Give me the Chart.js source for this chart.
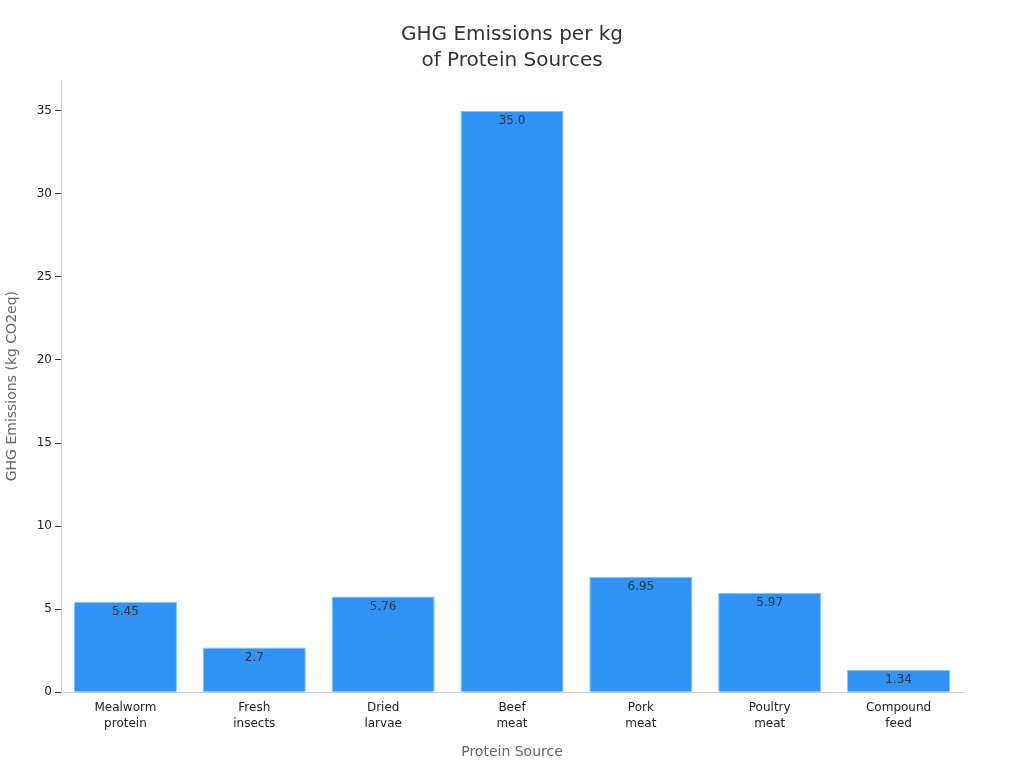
<!DOCTYPE html>
<html><head><meta charset="utf-8">
<script src="https://cdn.jsdelivr.net/npm/chart.js@4"></script>
<style>html,body{margin:0;padding:0;background:#fff}#wrap{width:1024px;height:768px}</style>
</head><body><div id="wrap"><canvas id="c" width="1024" height="768"></canvas></div>
<script>
const categories = [["Mealworm","protein"],["Fresh","insects"],["Dried","larvae"],["Beef","meat"],["Pork","meat"],["Poultry","meat"],["Compound","feed"]];
const emissions = [5.45, 2.7, 5.76, 35.0, 6.95, 5.97, 1.34];
const valueLabels = ["5.45","2.7","5.76","35.0","6.95","5.97","1.34"];
const yTicks = [0,5,10,15,20,25,30,35];
const titleLines = ["GHG Emissions per kg", "of Protein Sources"];

const FONT = "'DejaVu Sans', sans-serif";
const labelPlugin = {
  id: 'vlabels',
  afterDatasetsDraw(chart) {
    const ctx = chart.ctx;
    const meta = chart.getDatasetMeta(0);
    ctx.save();
    ctx.font = "12px " + FONT;
    ctx.fillStyle = "#333";
    ctx.textAlign = "center";
    ctx.textBaseline = "middle";
    meta.data.forEach((bar, i) => {
      ctx.fillText(valueLabels[i], bar.x, bar.y + 10);
    });
    ctx.restore();
  },
  afterDraw(chart) {
    const ctx = chart.ctx;
    ctx.save();
    ctx.font = "20px " + FONT;
    ctx.fillStyle = "#333";
    ctx.textAlign = "center";
    ctx.textBaseline = "middle";
    titleLines.forEach((t, i) => ctx.fillText(t, chart.width / 2, 35 + i * 26));
    ctx.restore();
  }
};

new Chart(document.getElementById('c'), {
  type: 'bar',
  data: {
    labels: categories,
    datasets: [{
      data: emissions,
      backgroundColor: '#2E93F5',
      borderColor: '#8CC2F2',
      borderWidth: 1,
      barPercentage: 0.8,
      categoryPercentage: 1.0
    }]
  },
  options: {
    responsive: false,
    animation: false,
    layout: { padding: { left: 0, right: 61, top: 80, bottom: 3 } },
    plugins: {
      legend: { display: false },
      tooltip: { enabled: false },
      title: { display: false }
    },
    scales: {
      x: {
        grid: { display: false, drawOnChartArea: false, drawTicks: true, tickLength: 6, tickColor: '#333' },
        border: { display: true, color: '#ccc' },
        ticks: { color: '#222', font: { family: FONT, size: 12, lineHeight: 1.33 }, padding: 2 },
        title: { display: true, text: 'Protein Source', color: '#666', font: { family: FONT, size: 14 }, padding: { top: 10 } }
      },
      y: {
        min: 0, max: 36.85,
        afterBuildTicks(axis) { axis.ticks = yTicks.map(v => ({ value: v })); },
        afterFit(axis) { axis.width = 61; },
        grid: { display: true, drawOnChartArea: false, drawTicks: true, tickLength: 6, tickColor: '#333' },
        border: { display: true, color: '#ccc' },
        ticks: { color: '#222', font: { family: FONT, size: 12 }, padding: 3 },
        title: { display: true, text: 'GHG Emissions (kg CO2eq)', color: '#666', font: { family: FONT, size: 14 }, padding: { bottom: 14 } }
      }
    }
  },
  plugins: [labelPlugin]
});
</script></body></html>
